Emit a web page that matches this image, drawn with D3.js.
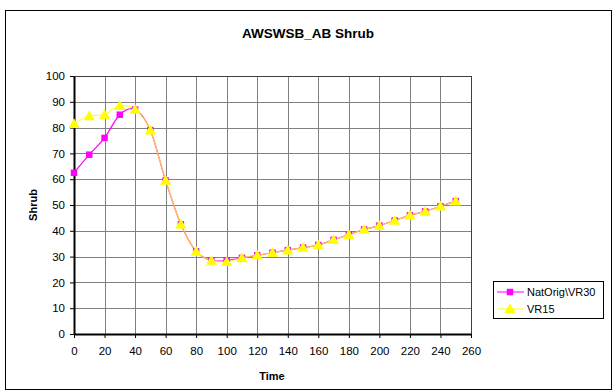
<!DOCTYPE html>
<html><head><meta charset="utf-8">
<script src="https://cdn.jsdelivr.net/npm/d3@7"></script>
<style>body{margin:0;background:#fff}svg{display:block}text{font-family:"Liberation Sans",Arial,sans-serif}</style>
</head><body><svg id="c" width="614" height="391"></svg>
<script>
const times = [0,10,20,30,40,50,60,70,80,90,100,110,120,130,140,150,160,170,180,190,200,210,220,230,240,250];
const natOrig = [62.5,69.5,76,85,87,79,59.5,42.5,32,28.5,28.5,29.5,30.5,31.5,32.5,33.5,34.5,36.5,38.5,40.5,42,44,46,47.5,49.5,51.5];
const vr15 = [81.5,84.5,85,88.5,87,79,59.5,42.5,32,28.5,28,29.5,30.5,31.5,32.5,33.5,34.5,36.5,38.5,40.5,42,44,46,47.5,49.5,51.5];
const xTicks = [0,20,40,60,80,100,120,140,160,180,200,220,240,260];
const yTicks = [0,10,20,30,40,50,60,70,80,90,100];
const seriesNames = ["NatOrig\\VR30","VR15"];

const svg = d3.select("#c");
svg.append("rect").attr("x",5.5).attr("y",10.5).attr("width",606).attr("height",379)
  .attr("fill","#fff").attr("stroke","#000").attr("stroke-width",1);

const L=74,R=471,T=76,B=334;
const x = d3.scaleLinear().domain([0,260]).range([L,R]);
const y = d3.scaleLinear().domain([0,100]).range([B,T]);

const g = svg.append("g");
g.selectAll(".hg").data(yTicks.slice(1)).join("line")
  .attr("x1",L).attr("x2",R).attr("y1",d=>Math.round(y(d))+0.5).attr("y2",d=>Math.round(y(d))+0.5)
  .attr("stroke","#808080").attr("stroke-width",1);
g.selectAll(".vg").data(xTicks.slice(1)).join("line")
  .attr("y1",T).attr("y2",B).attr("x1",d=>Math.round(x(d))+0.5).attr("x2",d=>Math.round(x(d))+0.5)
  .attr("stroke","#808080").attr("stroke-width",1);
svg.append("rect").attr("x",L+0.5).attr("y",T+0.5).attr("width",R-L).attr("height",B-T)
  .attr("fill","none").attr("stroke","#404040");

const xAxis = svg.append("g").attr("transform",`translate(0,${B})`)
  .call(d3.axisBottom(x).tickValues(xTicks).tickSize(4).tickSizeOuter(0));
const yAxis = svg.append("g").attr("transform",`translate(${L},0)`)
  .call(d3.axisLeft(y).tickValues(yTicks).tickSize(4).tickSizeOuter(0));
[xAxis,yAxis].forEach(a=>{
  a.select(".domain").attr("stroke","#000").attr("stroke-width",2);
  a.selectAll(".tick line").attr("stroke","#000");
  a.selectAll("text").attr("font-size","11.5px").attr("fill","#000").attr("font-family","'Liberation Sans',Arial,sans-serif");
});
xAxis.selectAll("text").attr("dy","0.71em").attr("y",13);
yAxis.selectAll("text").attr("x",-9);

svg.append("text").attr("x",308).attr("y",38).attr("text-anchor","middle")
  .attr("font-size","13.5px").attr("font-weight","bold").text("AWSWSB_AB Shrub");
svg.append("text").attr("x",272).attr("y",380).attr("text-anchor","middle")
  .attr("font-size","11px").attr("font-weight","bold").text("Time");
svg.append("text").attr("transform","translate(37,205) rotate(-90)").attr("text-anchor","middle")
  .attr("font-size","11px").attr("font-weight","bold").text("Shrub");

const line = d3.line().x((d,i)=>x(times[i])).y(d=>y(d)).curve(d3.curveCatmullRom.alpha(0));
svg.append("path").datum(natOrig).attr("d",line).attr("fill","none").attr("stroke","#FF00FF").attr("stroke-width",1.2);
svg.append("path").datum(vr15).attr("d",line).attr("fill","none").attr("stroke","#FFFF00").attr("stroke-width",1.2).attr("stroke-opacity",0.75);

const sq = d3.symbol().type(d3.symbolSquare).size(42);
const tri = d3.symbol().type(d3.symbolTriangle).size(55);
svg.selectAll(".m1").data(natOrig).join("path")
  .attr("transform",(d,i)=>`translate(${x(times[i])},${y(d)})`).attr("d",sq).attr("fill","#FF00FF");
svg.selectAll(".m2").data(vr15).join("path")
  .attr("transform",(d,i)=>`translate(${x(times[i])},${y(d)+1})`).attr("d",tri).attr("fill","#FFFF00");

const lg = svg.append("g");
lg.append("rect").attr("x",493.5).attr("y",281.5).attr("width",110).attr("height",37).attr("fill","#fff").attr("stroke","#000");
const ly = [292,309];
lg.append("line").attr("x1",497).attr("x2",524).attr("y1",ly[0]).attr("y2",ly[0]).attr("stroke","#FF00FF");
lg.append("path").attr("transform",`translate(510,${ly[0]})`).attr("d",sq).attr("fill","#FF00FF");
lg.append("line").attr("x1",497).attr("x2",524).attr("y1",ly[1]).attr("y2",ly[1]).attr("stroke","#FFFF00");
lg.append("path").attr("transform",`translate(510,${ly[1]+1})`).attr("d",tri).attr("fill","#FFFF00");
seriesNames.forEach((n,i)=>lg.append("text").attr("x",527).attr("y",ly[i]+4).attr("font-size","11px").text(n));
</script></body></html>
